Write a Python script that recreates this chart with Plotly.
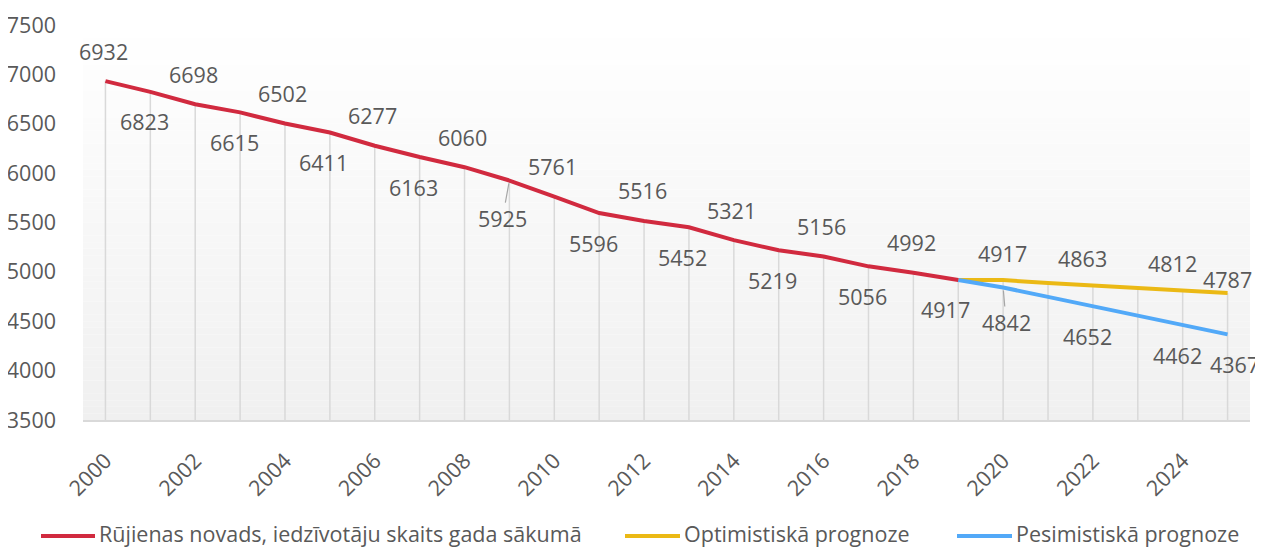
import plotly.graph_objects as go

# ---------------- data ----------------
actual_years = list(range(2000, 2020))
actual = [6932, 6823, 6698, 6615, 6502, 6411, 6277, 6163, 6060, 5925,
          5761, 5596, 5516, 5452, 5321, 5219, 5156, 5056, 4992, 4917]
forecast_years = list(range(2019, 2026))
optimistic = [4917, 4917, 4888, 4863, 4837, 4812, 4787]
pessimistic = [4917, 4842, 4747, 4652, 4557, 4462, 4367]
forecast_label_years = [2020, 2022, 2024, 2025]
x_ticks = list(range(2000, 2026, 2))
y_ticks = list(range(3500, 8000, 500))
series_names = ["Rūjienas novads, iedzīvotāju skaits gada sākumā",
                "Optimistiskā prognoze", "Pesimistiskā prognoze"]

# ---------------- style ----------------
RED, YEL, BLUE = "#D12A3F", "#EBB915", "#52A9F8"
TXT = "#595959"
FONT = "Open Sans"
OFF = 8  # page body margin
W, H = 1263 - OFF, 547 - OFF
ML, MR, MT, MB = 83 - OFF, 13, 25 - OFF, 127
PW, PH = W - ML - MR, H - MT - MB
FS = 21.5

fig = go.Figure()

# drop lines from the highest value of each year down to the axis
tops = {}
for xs, ys in ((actual_years, actual), (forecast_years, optimistic), (forecast_years, pessimistic)):
    for xv, yv in zip(xs, ys):
        tops[xv] = max(tops.get(xv, -1e9), yv)
dx, dy = [], []
for xv in sorted(tops):
    dx += [xv, xv, None]
    dy += [tops[xv], y_ticks[0], None]
fig.add_trace(go.Scatter(x=dx, y=dy, mode="lines", line=dict(color="#d9d9d9", width=1.5),
                         hoverinfo="skip", showlegend=False))

fig.add_trace(go.Scatter(x=forecast_years, y=optimistic, mode="lines",
                         line=dict(color=YEL, width=4), showlegend=False))
fig.add_trace(go.Scatter(x=forecast_years, y=pessimistic, mode="lines",
                         line=dict(color=BLUE, width=4), showlegend=False))
fig.add_trace(go.Scatter(x=actual_years, y=actual, mode="lines",
                         line=dict(color=RED, width=4), showlegend=False))

annos = []
lab_font = dict(family=FONT, size=FS, color=TXT)

def add_label(xv, yv, above, xshift=0, shift=30, leader=False):
    if leader:
        annos.append(dict(x=xv, y=yv, text=str(yv), showarrow=True, arrowhead=0,
                          arrowwidth=1.2, arrowcolor="#a6a6a6", ax=xshift, ay=shift,
                          standoff=3, font=lab_font))
    else:
        annos.append(dict(x=xv, y=yv, text=str(yv), showarrow=False,
                          yshift=shift if above else -shift, xshift=xshift, font=lab_font))

for i, (xv, yv) in enumerate(zip(actual_years, actual)):
    above = (i % 2 == 0)
    if xv == 2009:
        add_label(xv, yv, False, xshift=-7, shift=38, leader=True)
    elif xv == 2019:
        add_label(xv, yv, False, xshift=-13, shift=29)
    else:
        add_label(xv, yv, above, xshift=-2 if above else -6)

for xv, yv in zip(forecast_years, optimistic):
    if xv in forecast_label_years:
        if xv == 2025:
            add_label(xv, yv, True, xshift=0, shift=13)
        else:
            add_label(xv, yv, True, xshift=-1 if xv == 2020 else -10, shift=27)
for xv, yv in zip(forecast_years, pessimistic):
    if xv in forecast_label_years:
        if xv == 2020:
            add_label(xv, yv, False, xshift=3, shift=35, leader=True)
        else:
            add_label(xv, yv, False, xshift=7 if xv == 2025 else -5, shift=30)

# gradient background of the plot area
shapes = []
N = 60
for k in range(N):
    t = k / (N - 1)
    c = int(round(240 + (255 - 240) * t))
    shapes.append(dict(type="rect", xref="x domain", yref="y domain",
                       x0=0, x1=1, y0=k / N, y1=(k + 1) / N,
                       fillcolor=f"rgb({c},{c},{c})", line=dict(width=0), layer="below"))

# manual legend (positions given in screen pixels)
def px2paper(px, py):
    return (px - OFF - ML) / PW, (H - MB - (py - OFF)) / PH

legend_items = [(41, 95, RED), (625, 680, YEL), (957, 1012, BLUE)]
for (x0, x1, col), name in zip(legend_items, series_names):
    a0, b0 = px2paper(x0, 536)
    a1, _ = px2paper(x1, 536)
    shapes.append(dict(type="line", xref="paper", yref="paper", x0=a0, x1=a1, y0=b0, y1=b0,
                       line=dict(color=col, width=4)))
    tx, ty = px2paper(x1 + 2, 533)
    annos.append(dict(xref="paper", yref="paper", x=tx, y=ty, xanchor="left", yanchor="middle",
                      text=name, showarrow=False, font=dict(family=FONT, size=FS, color=TXT)))

fig.update_layout(
    width=W, height=H,
    margin=dict(l=ML, r=MR, t=MT, b=MB, autoexpand=False),
    paper_bgcolor="white", plot_bgcolor="white",
    showlegend=False,
    shapes=shapes, annotations=annos,
    font=dict(family=FONT, color=TXT),
    xaxis=dict(range=[1999.5, 2025.5], tickvals=x_ticks, tickangle=-45, showgrid=False,
               zeroline=False, showline=True, linecolor="#d9d9d9", linewidth=1.5,
               ticks="", tickfont=dict(family=FONT, size=FS, color=TXT), ticklabelstandoff=18,
               automargin=False),
    yaxis=dict(range=[y_ticks[0], y_ticks[-1]], tickvals=y_ticks, showgrid=False, zeroline=False,
               showline=False, ticks="", tickfont=dict(family=FONT, size=FS, color=TXT),
               ticklabelstandoff=26, automargin=False),
)

fig.write_html("out.html")
